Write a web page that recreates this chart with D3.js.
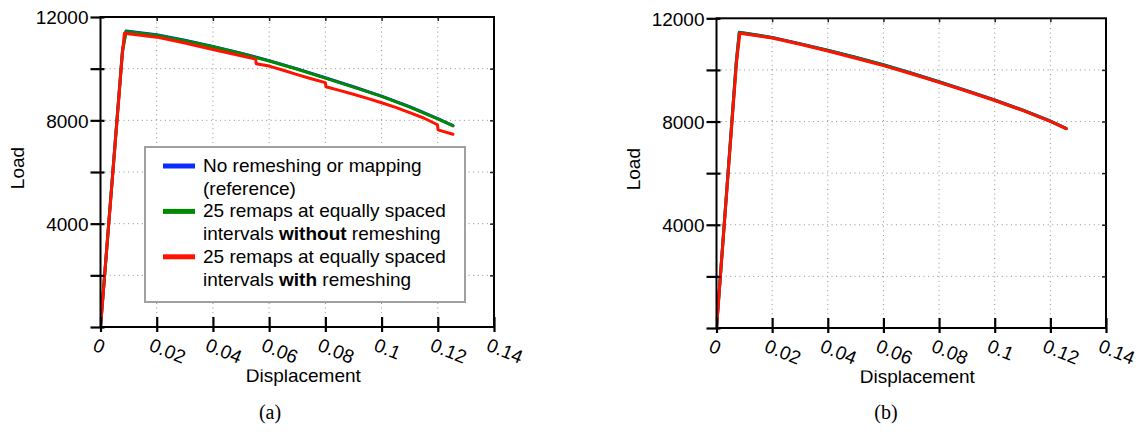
<!DOCTYPE html>
<html><head><meta charset="utf-8">
<script src="https://cdn.jsdelivr.net/npm/d3@7"></script>
<style>body{margin:0;background:#fff}svg{display:block}</style>
</head><body>
<svg id="chart" width="1148" height="434"></svg>
<script>
// ---------- data ----------
const xTicks = [0, 0.02, 0.04, 0.06, 0.08, 0.1, 0.12, 0.14];
const xTickLabels = ["0", "0.02", "0.04", "0.06", "0.08", "0.1", "0.12", "0.14"];
const yTicks = [0, 2000, 4000, 6000, 8000, 10000, 12000];
const yTickLabels = ["", "", "4000", "", "8000", "", "12000"];
const xLabel = "Displacement";
const yLabel = "Load";
const panelCaptions = ["(a)", "(b)"];
const seriesNames = ["No remeshing or mapping (reference)",
  "25 remaps at equally spaced intervals without remeshing",
  "25 remaps at equally spaced intervals with remeshing"];
const seriesColors = ["#0a2cff", "#008a00", "#ff1200"];

// panel (a)
const aRefDisp   = [0, 0.0078, 0.0091, 0.02, 0.03, 0.04, 0.05, 0.06, 0.07, 0.08, 0.09, 0.1, 0.11, 0.12, 0.1254];
const aRefLoad   = [0, 10700, 11460, 11310, 11100, 10860, 10600, 10310, 9990, 9650, 9300, 8940, 8530, 8070, 7800];
const aGreenDisp = [0, 0.0078, 0.0091, 0.02, 0.03, 0.04, 0.05, 0.06, 0.07, 0.08, 0.09, 0.1, 0.11, 0.12, 0.1254];
const aGreenLoad = [0, 10650, 11440, 11295, 11085, 10845, 10585, 10295, 9975, 9635, 9285, 8925, 8515, 8055, 7785];
const aRedDisp   = [0, 0.0078, 0.0085, 0.02, 0.03, 0.04, 0.05, 0.0552, 0.0554, 0.06, 0.065, 0.07, 0.075, 0.0800, 0.0802, 0.085, 0.09, 0.095, 0.1, 0.105, 0.11, 0.115, 0.1199, 0.1201, 0.1254];
const aRedLoad   = [0, 10600, 11370, 11220, 10990, 10740, 10500, 10370, 10190, 10100, 9940, 9770, 9610, 9460, 9300, 9160, 9010, 8850, 8680, 8500, 8300, 8090, 7830, 7630, 7460];

// panel (b)
const bRefDisp   = [0, 0.0071, 0.0082, 0.02, 0.03, 0.04, 0.05, 0.06, 0.07, 0.08, 0.09, 0.1, 0.11, 0.12, 0.1257];
const bRefLoad   = [0, 10300, 11460, 11260, 11020, 10760, 10490, 10200, 9880, 9540, 9200, 8840, 8450, 8020, 7735];
const bGreenDisp = [0, 0.0071, 0.0082, 0.02, 0.03, 0.04, 0.05, 0.06, 0.07, 0.08, 0.09, 0.1, 0.11, 0.12, 0.1257];
const bGreenLoad = [0, 10290, 11450, 11250, 11010, 10750, 10480, 10190, 9870, 9530, 9190, 8830, 8440, 8012, 7728];
const bRedDisp   = [0, 0.0072, 0.0084, 0.02, 0.03, 0.04, 0.05, 0.06, 0.07, 0.08, 0.09, 0.1, 0.11, 0.12, 0.1257];
const bRedLoad   = [0, 10300, 11420, 11240, 10995, 10730, 10455, 10165, 9850, 9515, 9175, 8815, 8430, 8005, 7722];

// ---------- drawing ----------
const svg = d3.select("#chart");
const FONT = "'Liberation Sans', Arial, Helvetica, sans-serif";
const defs = svg.append("defs");

function zip(xs, ys) { return xs.map((v, i) => [v, ys[i]]); }

function drawPanel(id, cfg, series, withLegend, caption) {
  const g = svg.append("g");
  const x = d3.scaleLinear().domain([0, 0.14]).range([cfg.x0, cfg.x1]);
  const y = d3.scaleLinear().domain([0, 12000]).range([cfg.y0, cfg.y1]);

  // grid
  g.append("g").selectAll("line").data(xTicks.slice(1, -1)).join("line")
    .attr("x1", d => x(d)).attr("x2", d => x(d))
    .attr("y1", y(0)).attr("y2", y(12000))
    .attr("stroke", "#909090").attr("stroke-width", 1).attr("stroke-dasharray", "1,3.6");
  g.append("g").selectAll("line").data(yTicks.slice(1, -1)).join("line")
    .attr("y1", d => y(d)).attr("y2", d => y(d))
    .attr("x1", x(0)).attr("x2", x(0.14))
    .attr("stroke", "#909090").attr("stroke-width", 1).attr("stroke-dasharray", "1,3.6");

  // clip
  defs.append("clipPath").attr("id", "clip" + id).append("rect")
    .attr("x", x(0)).attr("y", y(12000)).attr("width", x(0.14) - x(0)).attr("height", y(0) - y(12000));

  const line = d3.line().x(d => x(d[0])).y(d => y(d[1]));
  g.append("g").attr("clip-path", `url(#clip${id})`).selectAll("path").data(series).join("path")
    .attr("d", d => line(d.pts))
    .attr("fill", "none").attr("stroke", d => d.color)
    .attr("stroke-width", 3).attr("stroke-linejoin", "round").attr("stroke-linecap", "round");

  // frame
  g.append("rect").attr("x", x(0)).attr("y", y(12000))
    .attr("width", x(0.14) - x(0)).attr("height", y(0) - y(12000))
    .attr("fill", "none").attr("stroke", "#000").attr("stroke-width", 2);

  // bottom axis
  const gx = g.append("g").attr("transform", `translate(0,${y(0)})`)
    .call(d3.axisBottom(x).tickValues(xTicks).tickFormat((d, i) => xTickLabels[i]).tickSizeOuter(0));
  gx.select(".domain").remove();
  gx.selectAll(".tick line").attr("y1", -10).attr("y2", 5).attr("stroke", "#000").attr("stroke-width", 2.2);
  gx.selectAll(".tick text").attr("x", 0).attr("y", 0).attr("dy", "0.74em")
    .attr("text-anchor", "start").attr("transform", "translate(-4,10) rotate(22)")
    .attr("font-family", FONT).attr("font-size", 19).attr("fill", "#000");

  // top axis (inner ticks only)
  const gt = g.append("g").attr("transform", `translate(0,${y(12000)})`)
    .call(d3.axisTop(x).tickValues(xTicks.slice(1, -1)).tickFormat("").tickSizeOuter(0));
  gt.select(".domain").remove();
  gt.selectAll(".tick line").attr("y1", 0).attr("y2", 4).attr("stroke", "#222").attr("stroke-width", 1.5);

  // left axis
  const gy = g.append("g").attr("transform", `translate(${x(0)},0)`)
    .call(d3.axisLeft(y).tickValues(yTicks).tickFormat((d, i) => yTickLabels[i]).tickSizeOuter(0));
  gy.select(".domain").remove();
  gy.selectAll(".tick line").attr("x1", 4).attr("x2", -10).attr("stroke", "#000").attr("stroke-width", 2.2);
  gy.selectAll(".tick text").attr("x", -12).attr("dy", "0.36em")
    .attr("font-family", FONT).attr("font-size", 19).attr("fill", "#000");

  // right axis (inner ticks)
  const gr = g.append("g").attr("transform", `translate(${x(0.14)},0)`)
    .call(d3.axisRight(y).tickValues(yTicks.slice(1, -1)).tickFormat("").tickSizeOuter(0));
  gr.select(".domain").remove();
  gr.selectAll(".tick line").attr("x1", 0).attr("x2", -4).attr("stroke", "#222").attr("stroke-width", 1.5);

  // axis titles
  const xmid = (x(0) + x(0.14)) / 2;
  const tBase = y(0) + 55;
  defs.append("clipPath").attr("id", "xlclip" + id).append("rect")
    .attr("x", x(0) - 50).attr("y", tBase - 12.5).attr("width", x(0.14) - x(0) + 100).attr("height", 30);
  g.append("text").attr("x", xmid + 6).attr("y", tBase).attr("text-anchor", "middle")
    .attr("clip-path", `url(#xlclip${id})`)
    .attr("font-family", FONT).attr("font-size", 19).text(xLabel);
  const ymid = (y(0) + y(12000)) / 2 - 4;
  g.append("text").attr("transform", `translate(${x(0) - 77},${ymid}) rotate(-90)`)
    .attr("text-anchor", "middle").attr("font-family", FONT).attr("font-size", 19).text(yLabel);

  // caption
  g.append("text").attr("x", cfg.capX).attr("y", 419).attr("text-anchor", "middle")
    .attr("font-family", "'Liberation Serif', 'DejaVu Serif', serif").attr("font-size", 20).text(caption);

  if (withLegend) {
    const lg = g.append("g");
    lg.append("rect").attr("x", 145).attr("y", 147).attr("width", 320).attr("height", 155)
      .attr("fill", "#fff").attr("stroke", "#a0a0a0").attr("stroke-width", 2);
    const lines = [
      [{t: "No remeshing or mapping"}],
      [{t: "(reference)"}],
      [{t: "25 remaps at equally spaced"}],
      [{t: "intervals "}, {t: "without", b: true}, {t: " remeshing"}],
      [{t: "25 remaps at equally spaced"}],
      [{t: "intervals "}, {t: "with", b: true}, {t: " remeshing"}]
    ];
    const lh = 22.7, base0 = 172;
    lines.forEach((parts, i) => {
      const t = lg.append("text").attr("x", 203).attr("y", base0 + i * lh)
        .attr("font-family", FONT).attr("font-size", 19).attr("fill", "#000");
      parts.forEach(p => t.append("tspan").attr("font-weight", p.b ? "bold" : "normal")
        .style("white-space", "pre").text(p.t));
    });
    series.forEach((s, i) => {
      const ly = base0 - 6 + i * 2 * lh;
      lg.append("line").attr("x1", 163).attr("x2", 195).attr("y1", ly).attr("y2", ly)
        .attr("stroke", s.color).attr("stroke-width", 5);
    });
  }
}

const seriesA = [
  {name: seriesNames[0], color: seriesColors[0], pts: zip(aRefDisp, aRefLoad)},
  {name: seriesNames[1], color: seriesColors[1], pts: zip(aGreenDisp, aGreenLoad)},
  {name: seriesNames[2], color: seriesColors[2], pts: zip(aRedDisp, aRedLoad)}
];
const seriesB = [
  {name: seriesNames[0], color: seriesColors[0], pts: zip(bRefDisp, bRefLoad)},
  {name: seriesNames[1], color: seriesColors[1], pts: zip(bGreenDisp, bGreenLoad)},
  {name: seriesNames[2], color: seriesColors[2], pts: zip(bRedDisp, bRedLoad)}
];

drawPanel("a", {x0: 100.5, x1: 494, y0: 327, y1: 17, capX: 270}, seriesA, true, panelCaptions[0]);
drawPanel("b", {x0: 716.5, x1: 1106, y0: 328, y1: 18.3, capX: 886}, seriesB, false, panelCaptions[1]);
</script>
</body></html>
